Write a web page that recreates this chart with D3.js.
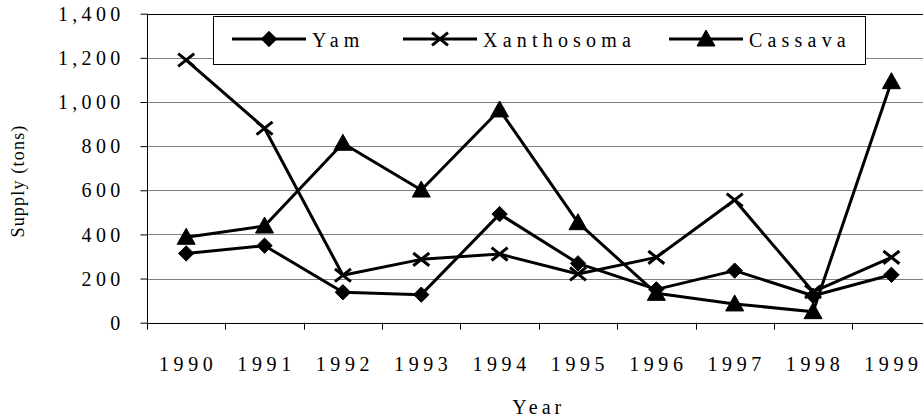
<!DOCTYPE html>
<html><head><meta charset="utf-8">
<script src="https://cdn.jsdelivr.net/npm/d3@7"></script>
<style>body{margin:0;background:#fff;overflow:hidden}svg{display:block}</style>
</head><body><svg id="c" width="923" height="419"></svg>
<script>
const years = ["1990","1991","1992","1993","1994","1995","1996","1997","1998","1999"];
const yam = [314, 349, 138, 127, 492, 269, 151, 236, 122, 217];
const xanthosoma = [1190, 881, 215, 287, 311, 221, 296, 556, 140, 296];
const cassava = [387, 438, 813, 601, 964, 453, 133, 85, 50, 1092];
const yTicks = [0, 200, 400, 600, 800, 1000, 1200, 1400];
const seriesNames = ["Yam", "Xanthosoma", "Cassava"];
const markers = ["diamond", "cross", "triangle"];

const FONT = "Liberation Serif";
const svg = d3.select("#c");
const L = 147, R = 930.6, T = 13.7, B = 322.7;
const x = d3.scaleBand().domain(years).range([L, R]);
const y = d3.scaleLinear().domain([0, 1400]).range([B, T]);
const fmt = d3.format(",");

// gridlines
svg.append("g").selectAll("line").data(yTicks.filter(d => d > 0)).join("line")
  .attr("x1", L).attr("x2", 923).attr("y1", d => Math.round(y(d)) + 0.5).attr("y2", d => Math.round(y(d)) + 0.5)
  .attr("stroke", d => d === 1400 ? "#000" : "#808080").attr("stroke-width", 1);

// y axis
const ya = svg.append("g").attr("transform", `translate(${L + 0.5},0)`)
  .call(d3.axisLeft(y).tickValues(yTicks).tickFormat(fmt).tickSize(7).tickPadding(20));
ya.attr("font-family", FONT);
ya.select(".domain").attr("d", `M0,${T}V${B}`).attr("stroke", "#000");
ya.selectAll(".tick line").attr("stroke", "#000");
ya.selectAll(".tick text").attr("font-size", 20).attr("letter-spacing", 4.3)
  .attr("font-family", FONT).attr("fill", "#000").attr("dx", 4).attr("dy", "0.33em");

// x axis
const xa = svg.append("g").attr("transform", `translate(0,${Math.round(B) + 0.5})`)
  .call(d3.axisBottom(x).tickSize(0).tickPadding(33));
xa.attr("font-family", FONT);
xa.select(".domain").attr("d", `M${L},0H${R}`).attr("stroke", "#000");
xa.selectAll(".tick text").attr("font-size", 20).attr("letter-spacing", 4.6)
  .attr("font-family", FONT).attr("fill", "#000").attr("dx", 2);
svg.append("g").selectAll("line").data(years).join("line")
  .attr("x1", d => Math.round(x(d)) + 0.5).attr("x2", d => Math.round(x(d)) + 0.5)
  .attr("y1", B).attr("y2", B + 7).attr("stroke", "#000");

// axis titles
svg.append("text").attr("x", (L + R) / 2).attr("y", 414).attr("text-anchor", "middle")
  .attr("font-family", FONT).attr("font-size", 20).attr("letter-spacing", 4).attr("fill", "#000").text("Year");
svg.append("text").attr("transform", `translate(24,181) rotate(-90)`).attr("text-anchor", "middle")
  .attr("font-family", FONT).attr("font-size", 18).attr("letter-spacing", 1.2).attr("fill", "#000").text("Supply (tons)");

// marker drawer
function drawMarker(g, type, cx, cy) {
  if (type === "diamond") {
    g.append("path").attr("d", d3.symbol().type(d3.symbolDiamond2).size(150)())
      .attr("transform", `translate(${cx},${cy})`).attr("fill", "#000").attr("stroke", "#000").attr("stroke-width", 1);
  } else if (type === "cross") {
    const s = 8;
    g.append("path").attr("d", `M${cx - s},${cy - s * 0.8}L${cx + s},${cy + s * 0.8}M${cx - s},${cy + s * 0.8}L${cx + s},${cy - s * 0.8}`)
      .attr("stroke", "#000").attr("stroke-width", 3).attr("fill", "none");
  } else {
    g.append("path").attr("d", `M${cx},${cy - 9}L${cx + 9},${cy + 7}L${cx - 9},${cy + 7}Z`)
      .attr("fill", "#000").attr("stroke", "#000").attr("stroke-width", 1);
  }
}

const allSeries = [yam, xanthosoma, cassava];
const line = d3.line().x((d, i) => x(years[i]) + x.bandwidth() / 2).y(d => y(d));
allSeries.forEach((vals, k) => {
  const g = svg.append("g");
  g.append("path").datum(vals).attr("d", line).attr("fill", "none").attr("stroke", "#000")
    .attr("stroke-width", 3).attr("stroke-linejoin", "round");
  vals.forEach((v, i) => drawMarker(g, markers[k], x(years[i]) + x.bandwidth() / 2, y(v)));
});

// legend
const lg = svg.append("g");
lg.append("rect").attr("x", 213.5).attr("y", 16.5).attr("width", 652).attr("height", 48)
  .attr("fill", "#fff").attr("stroke", "#000").attr("stroke-width", 1);
const legX = [232, 403, 669];
seriesNames.forEach((n, k) => {
  const lx = legX[k], ly = 39;
  lg.append("line").attr("x1", lx).attr("x2", lx + 74).attr("y1", ly).attr("y2", ly)
    .attr("stroke", "#000").attr("stroke-width", 3);
  drawMarker(lg, markers[k], lx + 37, ly);
  lg.append("text").attr("x", lx + 80).attr("y", ly + 8).attr("font-size", 20)
    .attr("font-family", FONT).attr("letter-spacing", 5.2).attr("fill", "#000").text(n);
});
</script></body></html>
